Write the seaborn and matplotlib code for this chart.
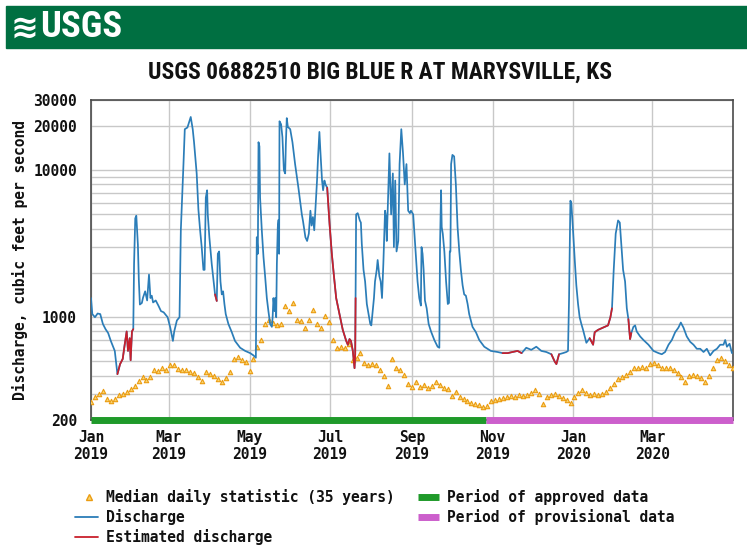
import numpy as np
import pandas as pd
import matplotlib
matplotlib.use("Agg")
import matplotlib.pyplot as plt
import seaborn as sns
from matplotlib.lines import Line2D
from matplotlib.patches import Rectangle
from matplotlib import font_manager

# ---------------- data ----------------
title = "USGS 06882510 BIG BLUE R AT MARYSVILLE, KS"
start = pd.Timestamp("2019-01-01")
end = pd.Timestamp("2020-05-01")

# daily discharge, day offset from 2019-01-01 and cfs
q_day = [0, 1, 3, 5, 7, 9, 11, 13, 15, 17, 18, 20, 22, 24, 25.5, 27, 28, 29.3, 30, 31, 32,
         32.6, 33.5, 34.3, 35.5, 36.2, 37, 38.5, 39.4, 41, 42.5, 43.9, 45, 46, 47, 49, 51, 53, 55, 58,
         60, 62, 63, 65, 67, 68, 69, 70, 71, 73, 75.5, 77, 78, 80, 81.3, 82.6, 83.8, 85.1, 86,
         86.9, 87.9, 88.4, 89.6, 91.4, 92.7, 93.9, 95.2, 96, 97, 98, 99, 100, 101, 102, 104,
         106.6, 109, 112.9, 116.7, 120.5, 123, 124.8, 125.5, 126.3, 126.8, 127.5, 128, 129.3,
         130.6, 131.8, 133.1, 134.3, 135.6, 136.9, 137.5, 138.1, 139, 139.4, 140.2, 140.7, 141.4,
         142, 142.4, 142.7, 143.9, 144.9, 146, 147, 147.5, 148.2, 149, 150.8, 152.5, 154.5, 157,
         159.6, 160.5, 162.3, 163.6, 164.9, 166.1, 167, 168, 169, 169.9, 171.1, 171.9, 172.9,
         173.6, 174.9, 175.7, 176.7, 177.5, 178.8, 180.6, 182.3, 183.8, 185.6, 188.1, 190.6,
         193.2, 194.4, 195.7, 196.8, 198.2, 199.5, 200, 200.3, 200.7, 201.9, 203.5, 204.3, 205,
         206.3, 207.5, 208.8, 210.1, 211.4, 212.2, 213.2, 214.2, 215, 216.3, 217, 218.3, 219.3,
         220.3, 221.3, 222.6, 223.2, 223.9, 224.9, 225.9, 227.2, 228.5, 229.3, 230.3, 231.3,
         232.6, 233.6, 234.9, 236.2, 237.5, 238.8, 240.1, 241.4, 242.2, 243.9, 244.7, 245.9,
         247.2, 248.5, 249.7, 250.2, 251, 251.8, 252.8, 254.1, 255.6, 257.4, 259.9, 262.4, 263.7,
         264.2, 265, 265.5, 266.3, 267.5, 268.8, 270.1, 271, 271.6, 272.1, 272.6, 273.6, 274.9,
         276.2, 277.5, 278.8, 280, 281.3, 282.5, 283.8, 285.1, 286.3, 288.8, 291.4, 293.9, 297.7,
         302.7, 307.8, 311.6, 315.4, 319, 322.9, 326, 329.5, 333.3, 337.1, 340.9, 344.7, 348.5,
         351, 352.3, 354.3, 357.3, 359.8, 361.1, 361.9, 362.9, 363.6, 364.9, 366.2, 367.4, 368.7,
         369.9, 371.2, 372.5, 375, 377.5, 380.1, 381.3, 383.8, 387.6, 391.4, 393.2, 394.4, 395.7,
         397.2, 399, 400.3, 401.5, 402.8, 404.3, 405.6, 406.8, 408.1, 409, 410.6, 411.9, 413.1,
         415.7, 418.2, 422, 425.8, 429.6, 432.1, 434.6, 437.2, 439.7, 442.2, 444.7, 446.5, 448.5,
         451, 453.6, 456.1, 458.6, 461.2, 463.7, 466.2, 468.7, 471.3, 473.8, 476.3, 478.8, 480.1,
         481.4, 483.4, 485.2]
q_cfs = [1350, 1050, 1000, 1060, 1050, 900, 830, 780, 690, 620, 590, 410, 480, 520, 650, 800, 590, 720, 510, 800, 830,
         2300, 4700, 4900, 3100, 1800, 1220, 1250, 1360, 1500, 1300, 1950, 1350, 1400, 1260, 1300, 1200, 1100, 1080, 1000,
         850, 690, 800, 950, 1000, 3900, 6500, 11000, 19000, 19500, 23000, 19000, 15500, 9500, 5400, 3900, 3000, 2100, 2100,
         6500, 7300, 5000, 3500, 2300, 1800, 1430, 1290, 2700, 2800, 1750, 1430, 1500, 1230, 1050, 900,
         790, 690, 620, 590, 570, 550, 530, 3500, 2700, 15500, 14500, 6500, 3900,
         2550, 1900, 1350, 1100, 900, 860, 1000, 1350, 1100, 1350, 1000, 2300, 4100,
         4600, 2700, 21500, 20500, 16800, 10000, 9500, 15000, 22600, 19700, 19000, 15500, 11000, 7600,
         5000, 4500, 3500, 3300, 3700, 5300, 4200, 4800, 3900, 5400, 8500, 12400, 18200,
         13700, 8500, 7300, 8500, 8000, 7600, 4300, 2700, 1950, 1350, 1050, 820,
         690, 650, 710, 690, 590, 450, 560, 1350, 5000, 5100, 4550, 4400, 3150,
         2100, 1750, 1230, 1050, 900, 880, 1100, 1350, 1750, 2100, 2450, 1900, 1750,
         1350, 2300, 5300, 4900, 3300, 6500, 13000, 5000, 9500, 3000, 8500, 2800,
         3300, 11000, 19000, 13000, 8000, 11000, 5300, 5100, 5300, 5000, 3900, 2700,
         1750, 1350, 1200, 3000, 2700, 2100, 1300, 1150, 900, 800, 700, 630, 620,
         3000, 7300, 4100, 3700, 2800, 1750, 1230, 1250, 2800, 2800, 11000, 12700, 12400,
         8000, 4100, 2800, 2100, 1650, 1430, 1400, 1230, 1050, 860, 790, 700, 630,
         590, 580, 570, 570, 580, 590, 570, 620, 600, 630, 590, 580, 560,
         500, 480, 560, 570, 580, 590, 1350, 6200, 6000, 3900, 2450, 1650, 1230,
         1000, 900, 820, 670, 720, 650, 790, 820, 850, 880, 1000, 1150, 2100,
         3700, 4550, 4400, 3100, 2100, 1750, 1150, 970, 710, 780, 860, 880, 800,
         740, 700, 650, 590, 570, 560, 580, 650, 700, 790, 850, 920, 850,
         740, 680, 650, 610, 610, 580, 610, 550, 590, 610, 650, 650, 700,
         630, 660, 570]

# periods of estimated discharge (day offsets)
est_periods = [(20, 32), (93.9, 95.2), (178.8, 200.3), (311.6, 326), (348.5, 354.3),
               (377.5, 394.4), (406.8, 409)]

# median daily statistic (35 years), every 3rd day from 2019-01-01
med_cfs = [265, 285, 300, 315, 280, 268, 280, 295, 300, 312,
           325, 340, 370, 395, 372, 390, 440, 430, 455, 440,
           475, 470, 445, 435, 440, 425, 420, 390, 370, 425,
           410, 400, 380, 360, 385, 425, 520, 540, 515, 495,
           430, 520, 630, 700, 900, 960, 920, 880, 900, 1200,
           1100, 1250, 960, 940, 850, 950, 1120, 900, 850, 1020,
           930, 700, 620, 630, 620, 660, 510, 530, 570, 490,
           475, 480, 470, 440, 400, 340, 520, 450, 440, 405,
           350, 335, 360, 335, 345, 330, 340, 365, 345, 330,
           325, 290, 310, 288, 280, 270, 262, 258, 252, 246,
           248, 270, 272, 280, 282, 285, 290, 288, 295, 290,
           298, 305, 318, 300, 258, 285, 295, 300, 290, 282,
           275, 262, 285, 305, 318, 305, 298, 300, 295, 300,
           310, 328, 350, 378, 390, 405, 425, 448, 452, 458,
           450, 480, 490, 470, 455, 450, 455, 440, 420, 395,
           365, 400, 405, 400, 385, 365, 400, 450, 515, 530,
           500, 470, 450]
med_day = list(range(0, 487, 3))

approved_end = pd.Timestamp("2019-10-27")

x_ticks = ["2019-01-01", "2019-03-01", "2019-05-01", "2019-07-01", "2019-09-01",
           "2019-11-01", "2020-01-01", "2020-03-01"]
x_labels = ["Jan\n2019", "Mar\n2019", "May\n2019", "Jul\n2019", "Sep\n2019",
            "Nov\n2019", "Jan\n2020", "Mar\n2020"]
y_ticks = [200, 1000, 10000, 20000, 30000]
y_minor = [300, 400, 500, 600, 700, 800, 900, 2000, 3000, 4000, 5000, 6000, 7000, 8000, 9000]

# ---------------- styling ----------------
sns.set_style("white")
MONO = ["DejaVu Sans Mono", "DejaVu Sans"]
plt.rcParams["font.family"] = MONO

_names = {f.name for f in font_manager.fontManager.ttflist}
NARROW_FAM = None
for cand in ["Liberation Sans Narrow", "Arial Narrow", "Roboto Condensed",
             "Open Sans Condensed", "Noto Sans Condensed"]:
    if cand in _names:
        NARROW_FAM = cand
        break
if NARROW_FAM is None:
    NARROW = dict(family=["Liberation Sans", "DejaVu Sans"])
else:
    NARROW = dict(family=[NARROW_FAM, "DejaVu Sans"])

C_Q = "#2b7db8"
C_EST = "#c9202c"
C_MED_EDGE = "#eb9c12"
C_MED_FILL = "#f8d56e"
C_APP = "#1f9a2a"
C_PROV = "#cc5fcc"
C_BANNER = "#006f41"

W, H = 747, 548
fig = plt.figure(figsize=(W / 100, H / 100), dpi=100)
renderer = fig.canvas.get_renderer()

def fx(px):
    return px / W

def fy(py):
    return 1 - py / H

def fit_width(t, target_px):
    w = t.get_window_extent(renderer=renderer).width
    t.set_fontsize(t.get_fontsize() * target_px / w)

# banner
fig.add_artist(Rectangle((fx(6), fy(48)), fx(741), 42 / H, transform=fig.transFigure,
                         color=C_BANNER, zorder=0))
fig.text(fx(11), fy(28), "\u224b", color="white", fontsize=24, fontweight="bold",
         family=["DejaVu Sans"], ha="left", va="center")
logo = fig.text(fx(40), fy(27), "USGS", color="white", fontsize=25, fontweight="bold",
                ha="left", va="center", **NARROW)
fit_width(logo, 82)

# title
ttl = fig.text(fx(380), fy(72), title, ha="center", va="center", fontsize=16,
               fontweight="bold", color="#111111", **NARROW)
fit_width(ttl, 464)

# axes
ax = fig.add_axes([fx(91), fy(420), fx(642), 320 / H])

q = pd.DataFrame({"date": start + pd.to_timedelta(q_day, unit="D"), "cfs": q_cfs, "day": q_day})
m = pd.DataFrame({"date": start + pd.to_timedelta(med_day, unit="D"), "cfs": med_cfs})

sns.scatterplot(data=m, x="date", y="cfs", ax=ax, marker="^", s=10, color=C_MED_FILL,
                edgecolor=C_MED_EDGE, linewidth=0.8, zorder=3, legend=False)
sns.lineplot(data=q, x="date", y="cfs", ax=ax, color=C_Q, lw=1.25, estimator=None,
             sort=False, zorder=4, legend=False)
for a, b in est_periods:
    seg = q[(q["day"] >= a) & (q["day"] <= b)]
    sns.lineplot(data=seg, x="date", y="cfs", ax=ax, color=C_EST, lw=1.25, estimator=None,
                 sort=False, zorder=5, legend=False)

ax.set_yscale("log")
ax.set_ylim(200, 30000)
ax.set_xlim(start, end)

ax.set_yticks(y_ticks)
ax.set_yticklabels([str(v) for v in y_ticks])
ax.set_yticks(y_minor, minor=True)
ax.yaxis.set_minor_formatter(matplotlib.ticker.NullFormatter())
ax.set_xticks(pd.to_datetime(x_ticks))
ax.set_xticklabels(x_labels)
ax.tick_params(axis="both", which="both", length=0)
ax.tick_params(axis="y", pad=10, labelsize=10.5)
ax.tick_params(axis="x", pad=7, labelsize=10.5)
for lab in ax.get_xticklabels() + ax.get_yticklabels():
    lab.set_fontweight("bold")
    lab.set_color("#111111")
ax.grid(True, which="both", axis="y", color="#c8c8c8", lw=1, zorder=0)
ax.grid(True, which="major", axis="x", color="#c8c8c8", lw=1, zorder=0)
ax.set_axisbelow(True)
for s in ax.spines.values():
    s.set_color("#4a4a4a")
    s.set_linewidth(1.2)
ax.set_xlabel("")
ax.set_ylabel("Discharge, cubic feet per second", fontsize=10.5, fontweight="bold",
              color="#111111", labelpad=4)

# approved / provisional bars along the bottom
ax.plot([start, approved_end], [200, 200], color=C_APP, lw=5, solid_capstyle="butt",
        clip_on=False, zorder=6)
ax.plot([approved_end, end], [200, 200], color=C_PROV, lw=5, solid_capstyle="butt",
        clip_on=False, zorder=6)

# legend (manual layout)
leg_font = dict(fontsize=10.5, fontweight="bold", color="#111111", va="center", ha="left")
rows = [497, 517, 537]
fig.add_artist(Line2D([fx(89)], [fy(rows[0])], marker="^", markersize=4,
                      markerfacecolor=C_MED_FILL, markeredgecolor=C_MED_EDGE, lw=0,
                      transform=fig.transFigure))
fig.text(fx(106), fy(rows[0]), "Median daily statistic (35 years)", **leg_font)
fig.add_artist(Line2D([fx(75), fx(98)], [fy(rows[1])] * 2, color=C_Q, lw=1.3,
                      transform=fig.transFigure))
fig.text(fx(106), fy(rows[1]), "Discharge", **leg_font)
fig.add_artist(Line2D([fx(75), fx(98)], [fy(rows[2])] * 2, color=C_EST, lw=1.3,
                      transform=fig.transFigure))
fig.text(fx(106), fy(rows[2]), "Estimated discharge", **leg_font)
fig.add_artist(Line2D([fx(418), fx(439)], [fy(rows[0])] * 2, color=C_APP, lw=5,
                      solid_capstyle="butt", transform=fig.transFigure))
fig.text(fx(447), fy(rows[0]), "Period of approved data", **leg_font)
fig.add_artist(Line2D([fx(418), fx(439)], [fy(rows[1])] * 2, color=C_PROV, lw=5,
                      solid_capstyle="butt", transform=fig.transFigure))
fig.text(fx(447), fy(rows[1]), "Period of provisional data", **leg_font)

fig.savefig("out.png", dpi=100)
